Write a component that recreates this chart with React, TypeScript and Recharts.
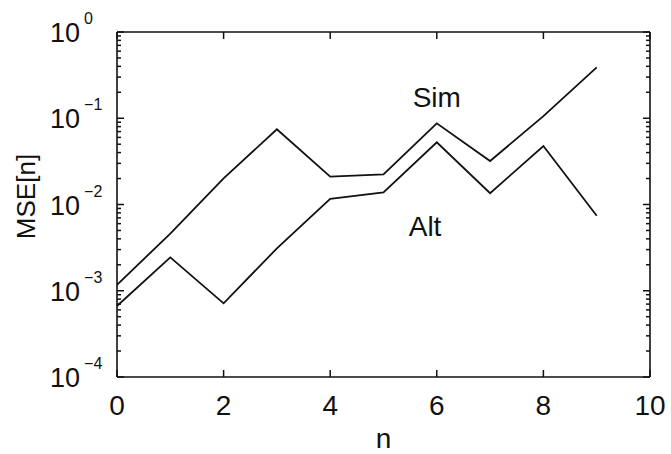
import React from 'react';
import { LineChart, Line, XAxis, YAxis, ReferenceDot } from 'recharts';

const nValues = [0, 1, 2, 3, 4, 5, 6, 7, 8, 9];
const simValues = [1.17e-3, 4.6e-3, 0.0201, 0.0744, 0.021, 0.0224, 0.0874, 0.0319, 0.106, 0.389];
const altValues = [6.65e-4, 2.44e-3, 7.15e-4, 3.1e-3, 0.0116, 0.0138, 0.0526, 0.0135, 0.0477, 7.4e-3];

const xTicks = [0, 2, 4, 6, 8, 10];
const yMajorExps = [-4, -3, -2, -1, 0];
const yMinorMultipliers = [2, 3, 4, 5, 6, 7, 8, 9];

const data = nValues.map((n, i) => ({ n, sim: simValues[i], alt: altValues[i] }));

const yTicks: number[] = [];
yMajorExps.forEach((e) => {
  yTicks.push(Math.pow(10, e));
  if (e < 0) yMinorMultipliers.forEach((m) => yTicks.push(m * Math.pow(10, e)));
});

const FONT = '"Liberation Sans", Arial, Helvetica, sans-serif';
const INK = '#111';
const MAJOR_LEN = 7;
const MINOR_LEN = 4;

const isMajor = (v: number) => {
  const l = Math.log10(v);
  return Math.abs(l - Math.round(l)) < 1e-6;
};

const LeftTick = (props: any) => {
  const x = Number(props.x);
  const y = Number(props.y);
  const v = Number(props.payload.value);
  const major = isMajor(v);
  const len = major ? MAJOR_LEN : MINOR_LEN;
  const exp = Math.round(Math.log10(v));
  return (
    <g>
      <path d={`M${x},${y}H${x + len}`} stroke={INK} strokeWidth={1.5} fill="none" />
      {major && (
        <text x={x - 67} y={y + 10} fontSize={27} fontFamily={FONT} fill={INK}>
          10
          <tspan dx={4} dy={-18} fontSize={16}>
            {exp < 0 ? '\u2212' + Math.abs(exp) : String(exp)}
          </tspan>
        </text>
      )}
    </g>
  );
};

const RightTick = (props: any) => {
  const x = Number(props.x);
  const y = Number(props.y);
  const major = isMajor(Number(props.payload.value));
  const len = major ? MAJOR_LEN : MINOR_LEN;
  return <path d={`M${x},${y}H${x - len}`} stroke={INK} strokeWidth={1.5} fill="none" />;
};

const BottomTick = (props: any) => {
  const x = Number(props.x);
  const y = Number(props.y);
  return (
    <g>
      <path d={`M${x},${y}V${y - MAJOR_LEN}`} stroke={INK} strokeWidth={1.5} fill="none" />
      <text x={x} y={y + 38} textAnchor="middle" fontSize={28} fontFamily={FONT} fill={INK}>
        {props.payload.value}
      </text>
    </g>
  );
};

const TopTick = (props: any) => {
  const x = Number(props.x);
  const y = Number(props.y);
  return <path d={`M${x},${y}V${y + MAJOR_LEN}`} stroke={INK} strokeWidth={1.5} fill="none" />;
};

const YLabel = (props: any) => {
  const { viewBox } = props;
  const cx = viewBox.x + 26;
  const cy = viewBox.y + viewBox.height / 2 - 8;
  return (
    <text
      x={cx}
      y={cy}
      transform={`rotate(-90, ${cx}, ${cy})`}
      textAnchor="middle"
      dominantBaseline="central"
      fontSize={26}
      fontFamily={FONT}
      fill={INK}
    >
      MSE[n]
    </text>
  );
};

const XLabel = (props: any) => {
  const { viewBox } = props;
  const cx = viewBox.x + viewBox.width / 2;
  return (
    <text x={cx} y={viewBox.y + 71} textAnchor="middle" fontSize={28} fontFamily={FONT} fill={INK}>
      n
    </text>
  );
};

export default function App() {
  return (
    <div style={{ position: 'absolute', left: 0, top: 0, background: '#fff' }}>
      <LineChart width={671} height={454} data={data} margin={{ top: 0, right: 0, bottom: 0, left: 0 }}>
        <XAxis
          xAxisId="bottom"
          dataKey="n"
          type="number"
          domain={[0, 10]}
          ticks={xTicks}
          interval={0}
          orientation="bottom"
          height={77}
          tickSize={0}
          tickMargin={0}
          axisLine={{ stroke: INK, strokeWidth: 1.6 }}
          tick={<BottomTick />}
          label={<XLabel />}
        />
        <XAxis
          xAxisId="top"
          dataKey="n"
          type="number"
          domain={[0, 10]}
          ticks={xTicks}
          interval={0}
          orientation="top"
          height={32}
          tickSize={0}
          tickMargin={0}
          axisLine={{ stroke: INK, strokeWidth: 1.6 }}
          tick={<TopTick />}
        />
        <YAxis
          yAxisId="left"
          scale="log"
          domain={[1e-4, 1]}
          allowDataOverflow
          ticks={yTicks}
          interval={0}
          orientation="left"
          width={117}
          tickSize={0}
          tickMargin={0}
          axisLine={{ stroke: INK, strokeWidth: 1.6 }}
          tick={<LeftTick />}
          label={<YLabel />}
        />
        <YAxis
          yAxisId="right"
          scale="log"
          domain={[1e-4, 1]}
          allowDataOverflow
          ticks={yTicks}
          interval={0}
          orientation="right"
          width={21}
          tickSize={0}
          tickMargin={0}
          axisLine={{ stroke: INK, strokeWidth: 1.6 }}
          tick={<RightTick />}
        />
        <Line xAxisId="bottom" yAxisId="left" type="linear" dataKey="sim" stroke={INK} strokeWidth={1.8} dot={false} isAnimationActive={false} />
        <Line xAxisId="bottom" yAxisId="left" type="linear" dataKey="alt" stroke={INK} strokeWidth={1.8} dot={false} isAnimationActive={false} />
        <ReferenceDot xAxisId="bottom" yAxisId="left" x={6.0} y={0.174} r={0} fill="none" stroke="none"
          label={{ value: 'Sim', position: 'center', fontSize: 28, fill: INK, fontFamily: FONT }} />
        <ReferenceDot xAxisId="bottom" yAxisId="left" x={5.78} y={0.0056} r={0} fill="none" stroke="none"
          label={{ value: 'Alt', position: 'center', fontSize: 28, fill: INK, fontFamily: FONT }} />
      </LineChart>
    </div>
  );
}
